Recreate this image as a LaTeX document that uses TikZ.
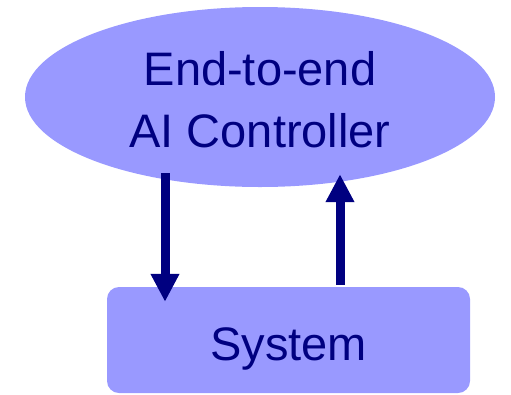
\documentclass[tikz,border=0pt]{standalone}
\usepackage{fontspec}
\setmainfont{Liberation Sans}
\usetikzlibrary{shapes.geometric,arrows.meta}
\definecolor{boxfill}{HTML}{9999FF}
\definecolor{darknavy}{HTML}{000080}
\begin{document}
\begin{tikzpicture}[x=1pt,y=-1pt,
    blob/.style={fill=boxfill,draw=none,inner sep=0pt,text=darknavy,align=center,
        font=\fontsize{47}{62}\selectfont},
    flow/.style={draw=darknavy,line width=9pt,-{Triangle[length=28pt,width=27pt]}}]
    \useasboundingbox (0,0) rectangle (511,394);
    \node[blob,ellipse,minimum width=470pt,minimum height=180pt,text height=102pt] (ctrl) at (260,97) {End-to-end\\AI Controller};
    \node[blob,rectangle,rounded corners=12pt,minimum width=363pt,minimum height=106pt,text height=50pt] (sys) at (288.5,340) {System};
    \draw[flow] ([xshift=-95pt,yshift=14pt]ctrl.south) -- ([xshift=-123.5pt,yshift=-15pt]sys.north);
    \draw[flow] ([xshift=51.5pt,yshift=2pt]sys.north) -- ([xshift=80pt,yshift=13pt]ctrl.south);
\end{tikzpicture}
\end{document}
